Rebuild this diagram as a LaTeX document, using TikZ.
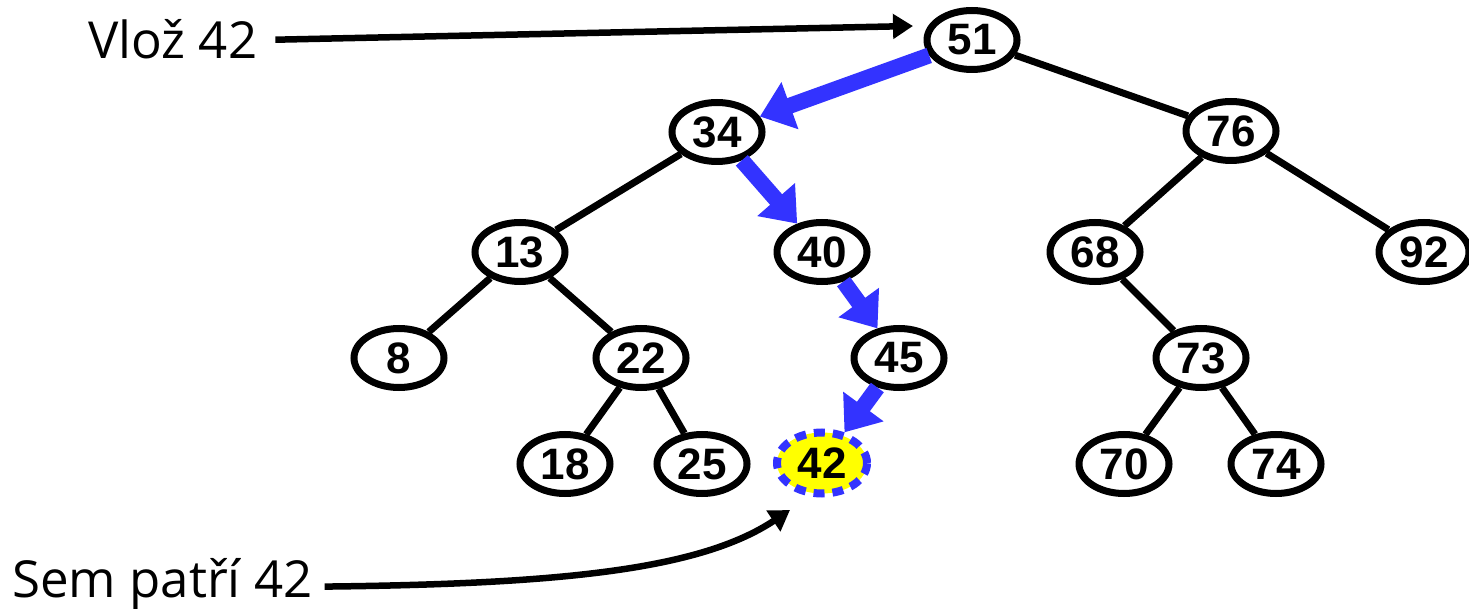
\documentclass[tikz,border=0pt]{standalone}
\usepackage{fontspec}
\setmainfont{Open Sans}
\newfontfamily\nodefont{Liberation Sans}
\usetikzlibrary{shapes.geometric,arrows.meta}
\definecolor{pathblue}{RGB}{51,51,255}
\definecolor{hiyellow}{RGB}{255,255,0}
\tikzset{
  key/.style={ellipse,draw=black,line width=7pt,minimum width=90pt,minimum height=59pt,inner sep=0pt,fill=white,
    font=\nodefont\bfseries\fontsize{44}{50}\selectfont},
  newkey/.style={key,fill=hiyellow,draw=pathblue,line width=8pt,dash pattern=on 11pt off 8pt,minimum height=61pt},
  edge/.style={line width=7pt,black},
  search/.style={line width=16pt,pathblue,-{Triangle[length=32pt,width=48pt]}},
  label/.style={font=\fontsize{51}{58}\selectfont,inner sep=0pt},
  pointer/.style={line width=6.5pt,black,-{Triangle[length=20pt,width=24pt]}}
}
\begin{document}
\begin{tikzpicture}[x=1pt,y=-1pt]
\useasboundingbox (0,0) rectangle (1469,609);
% nodes
\node[key] (n51) at (972,40) {51};
\node[key] (n34) at (717,132) {34};
\node[key] (n76) at (1231,131) {76};
\node[key] (n13) at (520,252) {13};
\node[key] (n40) at (822,252) {40};
\node[key] (n68) at (1095,252) {68};
\node[key] (n92) at (1424,252) {92};
\node[key] (n8) at (399,358) {8};
\node[key] (n22) at (641,358) {22};
\node[key] (n45) at (899,358) {45};
\node[key] (n73) at (1201,358) {73};
\node[key] (n18) at (565,464) {18};
\node[key] (n25) at (702,464) {25};
\node[newkey] (n42) at (822,463) {42};
\node[key] (n70) at (1124,464) {70};
\node[key] (n74) at (1276,464) {74};
% tree edges
\draw[edge] (n51) -- (n76);
\draw[edge] (n34) -- (n13);
\draw[edge] (n76) -- (n68);
\draw[edge] (n76) -- (n92);
\draw[edge] (n13) -- (n8);
\draw[edge] (n13) -- (n22);
\draw[edge] (n22) -- (n18);
\draw[edge] (n22) -- (n25);
\draw[edge] (n68) -- (n73);
\draw[edge] (n73) -- (n70);
\draw[edge] (n73) -- (n74);
% search path
\draw[search] (n51) -- (n34);
\draw[search] (n34) -- (n40);
\draw[search] (n40) -- (n45);
\draw[search] (n45) -- (n42);
% labels
\node[label,anchor=base west] (ins) at (88,59) {Vlož 42};
\node[label,anchor=base west] (here) at (12,597) {Sem patří 42};
\coordinate (t1) at (913,26);
\coordinate (t2) at (790,510);
\draw[pointer] ([xshift=18pt]ins.east) -- (t1);
\draw[pointer] ([xshift=12pt,yshift=-3pt]here.east) .. controls (560,584) and (700,570) .. (t2);
\end{tikzpicture}
\end{document}
